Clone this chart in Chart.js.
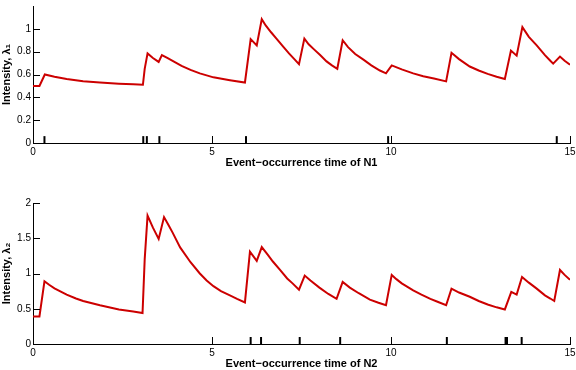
<!DOCTYPE html>
<html>
<head>
<meta charset="utf-8">
<script src="https://cdn.jsdelivr.net/npm/chart.js@4/dist/chart.umd.min.js"></script>
<style>
    html, body { margin: 0; padding: 0; background: #fff; overflow: hidden; }
    #wrap { position: relative; width: 576px; height: 370px; }
    canvas { position: absolute; left: 0; }
    #c1 { top: 0; }
    #c2 { top: 185px; }
</style>
</head>
<body>
<div id="wrap">
    <canvas id="c1" width="576" height="185"></canvas>
    <canvas id="c2" width="576" height="190"></canvas>
</div>
<script>
// Intensidad del proceso 1
const time1 = [0, 0.18, 0.33, 0.6, 0.94, 1.4, 1.87, 2.4, 2.8, 3.07, 3.12, 3.2, 3.35, 3.51, 3.6,
    3.75, 3.9, 4.15, 4.4, 4.66, 5.04, 5.5, 5.92, 6.08, 6.25, 6.39,
    6.5, 6.65, 6.8, 7.0, 7.15, 7.3, 7.43, 7.58, 7.7, 7.85, 8.02, 8.2, 8.35, 8.5,
    8.65, 8.8, 9.0, 9.23, 9.45, 9.69, 9.86, 10.02, 10.3, 10.62, 10.9, 11.2, 11.54,
    11.69, 11.9, 12.2, 12.45, 12.7, 12.95, 13.18, 13.35, 13.51,
    13.67, 13.85, 14.07, 14.3, 14.45, 14.53, 14.72, 14.85, 15];
const lambda1 = [0.50, 0.50, 0.60, 0.58, 0.56, 0.54, 0.53, 0.52, 0.515, 0.51, 0.65, 0.785, 0.745, 0.71, 0.77,
    0.745, 0.72, 0.675, 0.64, 0.61, 0.575, 0.55, 0.53, 0.91, 0.855, 1.085,
    1.03, 0.97, 0.915, 0.84, 0.785, 0.735, 0.69, 0.915, 0.865, 0.82, 0.77, 0.715, 0.68, 0.65,
    0.90, 0.84, 0.78, 0.73, 0.68, 0.635, 0.61, 0.68, 0.645, 0.61, 0.585, 0.565, 0.54,
    0.79, 0.735, 0.67, 0.635, 0.605, 0.58, 0.56, 0.81, 0.765,
    1.015, 0.93, 0.855, 0.77, 0.72, 0.695, 0.757, 0.72, 0.686];

// Intensidad del proceso 2
const time2 = [0, 0.18, 0.32, 0.45, 0.6, 0.94, 1.2, 1.4, 1.87, 2.4, 2.8, 3.06, 3.12, 3.2, 3.35, 3.51, 3.66,
    3.78, 3.9, 4.11, 4.4, 4.66, 4.85, 5.04, 5.25, 5.5, 5.7, 5.92, 6.06, 6.25, 6.39,
    6.55, 6.7, 6.9, 7.1, 7.25, 7.43, 7.59, 7.75, 8.0, 8.25, 8.48, 8.65, 8.85, 9.1,
    9.41, 9.65, 9.86, 10.02, 10.15, 10.3, 10.62, 10.85, 11.1, 11.3, 11.54,
    11.69, 11.9, 12.2, 12.45, 12.7, 12.95, 13.18, 13.36, 13.51, 13.66,
    13.85, 14.07, 14.3, 14.45, 14.56, 14.72, 14.85, 15];
const lambda2 = [0.39, 0.39, 0.89, 0.84, 0.79, 0.70, 0.645, 0.61, 0.55, 0.49, 0.46, 0.44, 1.2, 1.82, 1.65, 1.49, 1.80,
    1.69, 1.58, 1.37, 1.16, 1.0, 0.9, 0.82, 0.75, 0.69, 0.64, 0.59, 1.31, 1.18, 1.375,
    1.27, 1.17, 1.05, 0.93, 0.86, 0.77, 0.97, 0.9, 0.80, 0.71, 0.64, 0.88, 0.8, 0.72,
    0.63, 0.585, 0.55, 0.98, 0.92, 0.86, 0.76, 0.70, 0.64, 0.60, 0.55,
    0.785, 0.73, 0.67, 0.61, 0.56, 0.52, 0.49, 0.74, 0.70, 0.95,
    0.87, 0.785, 0.69, 0.645, 0.61, 1.05, 0.98, 0.91];

// Tiempos de ocurrencia de eventos
const events1 = [0.32, 3.08, 3.18, 3.53, 5.95, 9.92, 14.63];
const events2 = [6.08, 6.37, 7.45, 8.58, 11.56, 13.2, 13.24, 13.65];

const xTicks = [0, 5, 10, 15];
const yMax1 = 1.2, yStep1 = 0.2, yLabelMax1 = 1;
const yMax2 = 2, yStep2 = 0.5, yLabelMax2 = 2;

const RED = '#cc0000';

// Marcas de eje hacia dentro
const inwardTicks = {
    id: 'inwardTicks',
    afterDraw(chart) {
        const { ctx, chartArea, scales: { x, y } } = chart;
        ctx.save();
        ctx.strokeStyle = '#000';
        ctx.lineWidth = 1;
        ctx.beginPath();
        x.ticks.forEach(t => {
            const px = Math.round(x.getPixelForValue(t.value)) + 0.5;
            ctx.moveTo(px, chartArea.bottom);
            ctx.lineTo(px, chartArea.bottom - 7);
        });
        y.ticks.forEach(t => {
            const py = Math.round(y.getPixelForValue(t.value)) + 0.5;
            ctx.moveTo(chartArea.left, py);
            ctx.lineTo(chartArea.left + 7, py);
        });
        ctx.stroke();
        ctx.restore();
    }
};

function buildChart(canvasId, times, values, events, cfg) {
    const canvas = document.getElementById(canvasId);
    const curve = times.map((t, i) => ({ x: t, y: values[i] }));
    // centro de la marca a ~3.5px sobre el eje
    const markY = cfg.yMax * 3.5 / cfg.areaHeight;
    const marks = events.map(t => ({ x: t, y: markY }));

    return new Chart(canvas, {
        type: 'scatter',
        data: {
            datasets: [{
                data: curve,
                showLine: true,
                borderColor: RED,
                backgroundColor: RED,
                borderWidth: 2,
                pointRadius: 0,
                tension: 0
            }, {
                data: marks,
                showLine: false,
                pointStyle: 'line',
                rotation: 90,
                pointRadius: 3.5,
                borderWidth: 2,
                borderColor: '#000'
            }]
        },
        options: {
            responsive: false,
            animation: false,
            events: [],
            layout: { padding: { top: cfg.padTop, right: 6, left: 0, bottom: 0 } },
            plugins: { legend: { display: false }, tooltip: { enabled: false } },
            scales: {
                x: {
                    type: 'linear',
                    min: 0,
                    max: 15,
                    afterBuildTicks: s => { s.ticks = xTicks.map(v => ({ value: v })); },
                    afterFit: s => { s.height = cfg.xHeight; s.paddingLeft = 0; s.paddingRight = 0; },
                    grid: { display: true, drawOnChartArea: false, drawTicks: false },
                    border: { display: true, color: '#000', width: 1 },
                    ticks: {
                        color: '#000',
                        padding: 3,
                        maxRotation: 0,
                        font: { family: 'Liberation Sans, Arial, sans-serif', size: 10 }
                    },
                    title: {
                        display: true,
                        text: cfg.xTitle,
                        color: '#000',
                        padding: { top: 0, bottom: cfg.titlePad },
                        font: { family: 'Liberation Sans, Arial, sans-serif', size: 11, weight: 'bold' }
                    }
                },
                y: {
                    min: 0,
                    max: cfg.yMax,
                    afterBuildTicks: s => {
                        const ticks = [];
                        for (let v = 0; v <= cfg.yLabelMax + 1e-9; v += cfg.yStep) ticks.push({ value: +v.toFixed(2) });
                        s.ticks = ticks;
                    },
                    afterFit: s => { s.width = 33; s.paddingTop = 0; s.paddingBottom = 0; },
                    grid: { display: true, drawOnChartArea: false, drawTicks: false },
                    border: { display: true, color: '#000', width: 1 },
                    ticks: {
                        color: '#000',
                        padding: 2,
                        font: { family: 'Liberation Sans, Arial, sans-serif', size: 10 },
                        callback: v => String(+(+v).toFixed(2))
                    },
                    title: {
                        display: true,
                        text: cfg.yTitle,
                        color: '#000',
                        padding: { top: 0, bottom: 0 },
                        font: { family: 'Liberation Sans, Arial, sans-serif', size: 11, weight: 'bold' }
                    }
                }
            }
        },
        plugins: [inwardTicks]
    });
}

buildChart('c1', time1, lambda1, events1, {
    yMax: yMax1, yStep: yStep1, yLabelMax: yLabelMax1,
    padTop: 1, xHeight: 42, areaHeight: 142, titlePad: 15,
    xTitle: 'Event\u2212occurrence time of N1',
    yTitle: 'Intensity, \u03bb\u2081'
});

buildChart('c2', time2, lambda2, events2, {
    yMax: yMax2, yStep: yStep2, yLabelMax: yLabelMax2,
    padTop: 18, xHeight: 31, areaHeight: 141, titlePad: 4,
    xTitle: 'Event\u2212occurrence time of N2',
    yTitle: 'Intensity, \u03bb\u2082'
});
</script>
</body>
</html>
